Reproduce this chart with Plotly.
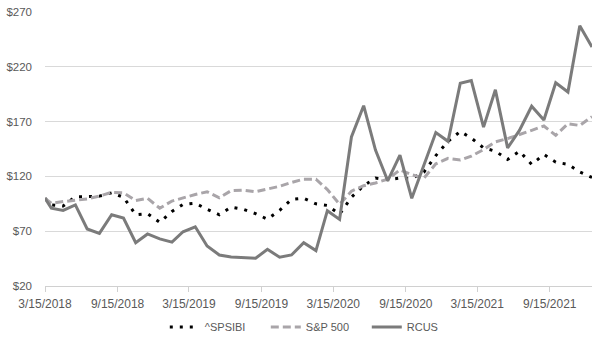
import pandas as pd
import plotly.graph_objects as go

# Observation dates: inception on 3/15/2018, then month-end values through 12/31/2021
start_date = ["2018-03-15"]
month_ends = [d.strftime("%Y-%m-%d") for d in pd.date_range("2018-03-31", "2021-12-31", freq="ME")]
dates = start_date + month_ends

# Growth of $100 investment
spsibi = [100, 94, 93, 101.5, 101.5, 102, 105, 101, 85, 86, 78, 88, 94.5, 95.5,
          90, 85, 92, 90, 86, 81, 89, 99, 100, 95, 93.5, 85.5,
          101, 111.5, 118.5, 117, 118.5, 118, 124, 139, 152, 161, 155, 146, 143,
          135.5, 143, 131, 140, 133, 131, 124, 119]

sp500 = [100, 95.5, 97, 98.5, 99.5, 102, 105.5, 105, 98, 100, 91, 97.5, 100.5, 103.5,
         106, 100.5, 107, 107.5, 106, 108.5, 111, 114.5, 117.5, 117.5, 108, 94.5,
         106.5, 111.5, 114, 117.5, 126, 121.5, 118.5, 131.5, 136.5, 135, 138.5, 144.5,
         151.5, 154.5, 158.5, 162, 166, 157.5, 168, 166.5, 174.5]

rcus = [100, 91, 89, 94, 72, 68, 85, 82, 59.5, 67.5, 63, 60, 69.5, 74,
        56.5, 48.3, 46.5, 46, 45.3, 53.5, 46.2, 48.3, 59.5, 52.3, 88.7, 80.8,
        156, 184.5, 144, 116, 139.5, 100, 130, 160, 152, 205, 207.5, 165, 199,
        146, 162, 184, 171.5, 205.5, 197, 257.5, 238]

tick_dates = ["2018-03-15", "2018-09-15", "2019-03-15", "2019-09-15",
              "2020-03-15", "2020-09-15", "2021-03-15", "2021-09-15"]
tick_labels = ["3/15/2018", "9/15/2018", "3/15/2019", "9/15/2019",
               "3/15/2020", "9/15/2020", "3/15/2021", "9/15/2021"]
y_ticks = [20, 70, 120, 170, 220, 270]
y_labels = ["$20", "$70", "$120", "$170", "$220", "$270"]

FONT = "'Liberation Sans', Arial, sans-serif"
TEXT = "#595959"

fig = go.Figure()
fig.add_trace(go.Scatter(x=dates, y=spsibi, mode="lines", name="^SPSIBI",
                         line=dict(color="#000000", width=3, dash="3px,7px")))
fig.add_trace(go.Scatter(x=dates, y=sp500, mode="lines", name="S&P 500",
                         line=dict(color="#a9a5a9", width=3, dash="8px,4px")))
fig.add_trace(go.Scatter(x=dates, y=rcus, mode="lines", name="RCUS",
                         line=dict(color="#7b7b7b", width=3)))

fig.update_layout(
    width=605, height=347,
    margin=dict(l=45, r=13, t=12, b=61, autoexpand=False),
    paper_bgcolor="white", plot_bgcolor="white",
    font=dict(family=FONT, size=11, color=TEXT),
    showlegend=True,
    legend=dict(orientation="h", x=0.219, xanchor="left", y=-0.15, yanchor="middle",
                entrywidth=56, font=dict(family=FONT, size=11, color=TEXT),
                bgcolor="rgba(0,0,0,0)"),
    xaxis=dict(type="date", range=["2018-03-15", "2021-12-31"],
               tickvals=tick_dates, ticktext=tick_labels, automargin=False,
               showgrid=False, zeroline=False,
               showline=True, linecolor="#d0d0d0", linewidth=1,
               ticks="outside", ticklen=5, tickcolor="#d0d0d0",
               ticklabelstandoff=2,
               tickfont=dict(family=FONT, size=12, color=TEXT)),
    yaxis=dict(range=[20, 270], tickvals=y_ticks, ticktext=y_labels, automargin=False,
               showgrid=True, gridcolor="#d9d9d9", gridwidth=1,
               zeroline=False, showline=False, ticks="",
               ticklabelstandoff=12,
               tickfont=dict(family=FONT, size=11.5, color=TEXT)),
)

fig.write_html("out.html")
